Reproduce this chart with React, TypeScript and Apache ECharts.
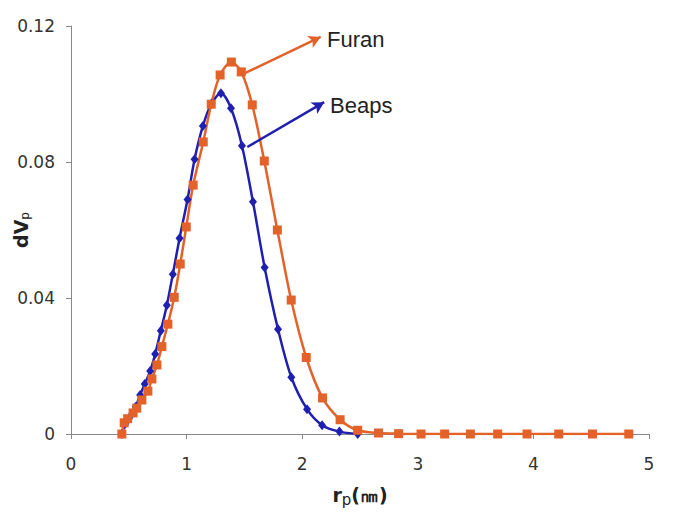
import React, { useEffect, useRef } from "react";
import * as echarts from "echarts";

const beapsX = [0.44, 0.47, 0.5, 0.53, 0.56, 0.598, 0.638, 0.685, 0.728, 0.777, 0.829, 0.881, 0.939, 1.008, 1.069, 1.141, 1.215, 1.297, 1.384, 1.479, 1.574, 1.675, 1.791, 1.906, 2.042, 2.172, 2.322, 2.48];
const beapsY = [0, 0.003, 0.0045, 0.006, 0.008, 0.0115, 0.0147, 0.0185, 0.0235, 0.0304, 0.0379, 0.047, 0.0576, 0.069, 0.0808, 0.0906, 0.0972, 0.1002, 0.0958, 0.0848, 0.0683, 0.049, 0.0308, 0.0167, 0.0073, 0.0026, 0.0007, 0];

const furanX = [0.44, 0.46, 0.49, 0.537, 0.569, 0.613, 0.665, 0.7, 0.743, 0.786, 0.838, 0.893, 0.945, 0.997, 1.057, 1.144, 1.213, 1.29, 1.387, 1.473, 1.568, 1.672, 1.785, 1.905, 2.035, 2.176, 2.328, 2.48, 2.66, 2.834, 3.028, 3.232, 3.455, 3.691, 3.945, 4.219, 4.511, 4.825];
const furanY = [0, 0.0033, 0.0045, 0.0062, 0.0076, 0.01, 0.0126, 0.0162, 0.0203, 0.0257, 0.0323, 0.0402, 0.05, 0.0609, 0.0732, 0.0859, 0.097, 0.1056, 0.1094, 0.1065, 0.0968, 0.0803, 0.06, 0.0394, 0.0225, 0.0106, 0.0042, 0.0011, 0.0003, 0.0001, 0, 0, 0, 0, 0, 0, 0, 0];

const xTicks = ["0", "1", "2", "3", "4", "5"];
const yTicks = ["0", "0.04", "0.08", "0.12"];

// annotation arrows in data coordinates [start, end]
const furanArrow = [[1.49, 0.1059], [2.16, 0.1168]];
const beapsArrow = [[1.525, 0.0844], [2.19, 0.0976]];

const BLUE = "#2020B0";
const ORANGE = "#E2622A";

export default function App() {
  const ref = useRef<HTMLDivElement>(null);
  useEffect(() => {
    document.body.style.margin = "0";
    const chart = echarts.init(ref.current!, undefined, { renderer: "svg" });
    const mk = (xs: number[], ys: number[]) => xs.map((x, i) => [x, ys[i]]);
    chart.setOption({
      animation: false,
      backgroundColor: "#ffffff",
      grid: { left: 71, right: 48, top: 26, bottom: 78, outerBoundsMode: "none", containLabel: false },
      xAxis: {
        type: "value",
        min: 0,
        max: 5,
        interval: 1,
        name: "{b|r}{s|p}{b|(㎚)}",
        nameLocation: "middle",
        nameGap: 48,
        nameMoveOverlap: false,
        nameTextStyle: {
          rich: {
            b: { fontFamily: "DejaVu Sans", fontWeight: "bold", fontSize: 19, color: "#222" },
            s: { fontFamily: "DejaVu Sans", fontSize: 15, color: "#222", padding: [10, 0, 0, 0] },
          },
        },
        axisLine: { lineStyle: { color: "#888", width: 1 } },
        axisTick: { show: true, length: 5, lineStyle: { color: "#888" } },
        splitLine: { show: false },
        axisLabel: {
          margin: 21,
          fontFamily: "DejaVu Sans",
          fontSize: 17,
          color: "#333",
          formatter: (v: number) => xTicks[Math.round(v)] ?? "",
        },
      },
      yAxis: {
        type: "value",
        min: 0,
        max: 0.12,
        interval: 0.04,
        name: "{b|dV}{s|p}",
        nameLocation: "middle",
        nameGap: 40,
        nameRotate: 90,
        nameMoveOverlap: false,
        nameTextStyle: {
          rich: {
            b: { fontFamily: "DejaVu Sans", fontWeight: "bold", fontSize: 19, color: "#222" },
            s: { fontFamily: "DejaVu Sans", fontSize: 12, color: "#222", padding: [9, 0, 0, 0] },
          },
        },
        axisLine: { show: true, lineStyle: { color: "#888", width: 1 } },
        axisTick: { show: true, length: 5, lineStyle: { color: "#888" } },
        splitLine: { show: false },
        axisLabel: {
          margin: 16,
          fontFamily: "DejaVu Sans",
          fontSize: 17,
          color: "#333",
          formatter: (v: number) => yTicks[Math.round(v / 0.04)] ?? "",
        },
      },
      series: [
        {
          name: "Beaps",
          type: "line",
          data: mk(beapsX, beapsY),
          smooth: 0.3,
          symbol: "diamond",
          symbolSize: [8, 10],
          lineStyle: { color: BLUE, width: 2.5 },
          itemStyle: { color: BLUE },
          markLine: {
            silent: true,
            symbol: ["none", "arrow"],
            symbolSize: [10, 12],
            label: { show: false },
            lineStyle: { color: BLUE, width: 2.5, type: "solid" },
            data: [[{ coord: beapsArrow[0] }, { coord: beapsArrow[1] }]],
          },
        },
        {
          name: "Furan",
          type: "line",
          data: mk(furanX, furanY),
          smooth: 0.3,
          symbol: "rect",
          symbolSize: 9,
          lineStyle: { color: ORANGE, width: 2.5 },
          itemStyle: { color: ORANGE },
          markLine: {
            silent: true,
            symbol: ["none", "arrow"],
            symbolSize: [10, 12],
            label: { show: false },
            lineStyle: { color: ORANGE, width: 2.5, type: "solid" },
            data: [[{ coord: furanArrow[0] }, { coord: furanArrow[1] }]],
          },
        },
      ],
      graphic: [
        {
          type: "text",
          left: 327,
          top: 28,
          style: { text: "Furan", font: "22px 'Liberation Sans', Arial, sans-serif", fill: "#222" },
        },
        {
          type: "text",
          left: 330,
          top: 94,
          style: { text: "Beaps", font: "22px 'Liberation Sans', Arial, sans-serif", fill: "#222" },
        },
      ],
    });
    return () => chart.dispose();
  }, []);
  return <div ref={ref} style={{ width: 697, height: 512 }} />;
}
